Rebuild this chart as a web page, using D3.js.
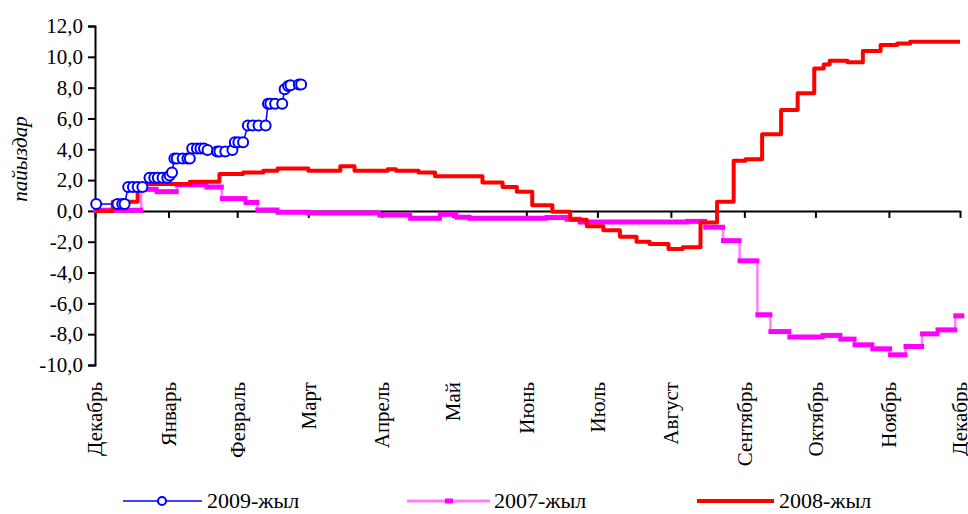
<!DOCTYPE html>
<html lang="ru">
<head>
    <meta charset="UTF-8">
    <script type="text/javascript" src="https://d3js.org/d3.v7.min.js"></script>
    <style type="text/css">
        * {
            margin: 0;
            padding: 0;
        }
        body {
            background-color: white;
        }
        svg {
            display: block;
            font-family: "Liberation Serif", "DejaVu Serif", serif;
        }
        svg text {
            font-family: "Liberation Serif", "DejaVu Serif", serif;
            fill: #000;
        }
        .axis text {
            font-size: 21px;
        }
    </style>
    <title>пайыздар</title>
</head>
<body>
    <div id="chartContainer"></div>

    <script>
        // подписи месяцев и их положение (день от начала декабря)
        var monthLabels = ["Декабрь", "Январь", "Февраль", "Март", "Апрель", "Май", "Июнь",
                           "Июль", "Август", "Сентябрь", "Октябрь", "Ноябрь", "Декабрь"];
        var monthDays = [0, 31, 60, 90, 121, 151, 182, 212, 243, 274, 304, 335, 365];
        var yTicks = [-10, -8, -6, -4, -2, 0, 2, 4, 6, 8, 10, 12];

        // 2009-жыл: точки с маркерами
        var days2009 = [0.5, 9.5, 11.5, 12.5, 14, 16, 18, 20, 23, 25, 26.5, 28.5, 30.5, 31.5, 32.5,
                        33.5, 34.5, 37, 39, 40, 41, 43, 44.5, 46, 47.5, 51.5, 52.5, 55, 58,
                        59, 60.5, 62.5, 64.5, 66.5, 69, 72, 73, 74, 76, 79, 80, 81.5, 82.5, 86, 87];
        var vals2009 = [0.45, 0.45, 0.45, 0.45, 1.55, 1.55, 1.55, 1.55, 2.15, 2.15, 2.15, 2.15, 2.15, 2.3, 2.5,
                        3.4, 3.4, 3.4, 3.4, 3.4, 4.05, 4.05, 4.05, 4.05, 3.95, 3.85, 3.85, 3.85, 3.95,
                        4.45, 4.45, 4.45, 5.55, 5.55, 5.55, 5.55, 6.95, 6.95, 6.95, 6.95, 7.9, 8.1, 8.15, 8.2, 8.2];

        // 2007-жыл: ступени (день начала ступени, значение)
        var days2007 = [0, 19.5, 26, 34.5, 47, 53.5, 63.5, 68.5, 77, 90, 120, 133, 145.5, 152.5, 158,
                        190.5, 199, 204.5, 250, 257.5, 265, 272, 279.5, 285, 293, 307, 314.5, 320.5,
                        328, 335.5, 342, 349, 355.5, 363, 366];
        var vals2007 = [0.05, 1.4, 1.25, 1.7, 1.55, 0.8, 0.55, 0.06, -0.08, -0.13, -0.26, -0.47, -0.22, -0.41, -0.47,
                        -0.43, -0.54, -0.72, -0.68, -1.06, -1.93, -3.24, -6.74, -7.83, -8.19, -8.08, -8.32, -8.69,
                        -8.95, -9.34, -8.8, -7.98, -7.72, -6.81, -6.81];

        // 2008-жыл: ступени
        var days2008 = [0, 7.5, 18, 40, 52.5, 62.5, 71, 77, 90, 103.5, 109.5, 123.5, 127, 136.5, 143.5,
                        163.5, 172, 178, 184.5, 193, 200.5, 207.5, 214.5, 221.5, 228.5, 234, 242, 248,
                        255.5, 262.5, 269.5, 274.5, 281.5, 289.5, 296.5, 303.5, 307.5, 310, 317.5, 324,
                        331.5, 338.5, 344, 365];
        var vals2008 = [0, 0.6, 1.75, 1.9, 2.4, 2.5, 2.6, 2.75, 2.6, 2.9, 2.6, 2.7, 2.6, 2.5, 2.25,
                        1.85, 1.55, 1.25, 0.37, -0.05, -0.58, -1.0, -1.25, -1.67, -2.0, -2.15, -2.48, -2.36,
                        -0.75, 0.6, 3.25, 3.35, 4.97, 6.55, 7.63, 9.25, 9.5, 9.75, 9.64, 10.38,
                        10.77, 10.87, 10.98, 10.98];

        var w = 968;
        var h = 514;
        var fontFamily = "'Liberation Serif', 'DejaVu Serif', serif";

        var toPoints = function(days, vals) {
            return days.map(function(d, i) { return {day: d, v: vals[i]}; });
        };
        var data2009 = toPoints(days2009, vals2009);
        var data2007 = toPoints(days2007, vals2007);
        var data2008 = toPoints(days2008, vals2008);

        var xScale = d3.scaleLinear()
                    .domain([0, 365])
                    .range([95, 960]);

        var yScale = d3.scaleLinear()
                    .domain([-10, 12])
                    .range([365, 26]);

        var svg = d3.select("#chartContainer")
                    .append("svg")
                    .attr("width", w)
                    .attr("height", h)
                    .attr("font-family", fontFamily);

        // оси
        var yAxis = d3.axisLeft(yScale)
                    .tickValues(yTicks)
                    .tickSize(7)
                    .tickPadding(5)
                    .tickFormat(function(d) { return d3.format(".1f")(d).replace(".", ",").replace("−", "-"); });

        var gy = svg.append("g")
                    .attr("class", "axis y")
                    .attr("transform", "translate(95,0)")
                    .call(yAxis)
                    .attr("font-family", fontFamily)
                    .attr("font-size", 21);
        gy.select(".domain").attr("stroke", "#000").attr("stroke-width", 2);
        gy.selectAll(".tick line").attr("stroke", "#000").attr("stroke-width", 2);

        var xAxis = d3.axisBottom(xScale)
                    .tickValues(monthDays)
                    .tickSize(7)
                    .tickSizeOuter(0)
                    .tickFormat("");

        var gx = svg.append("g")
                    .attr("class", "axis x")
                    .attr("transform", "translate(0," + yScale(0) + ")")
                    .call(xAxis);
        gx.select(".domain").attr("stroke", "#000").attr("stroke-width", 2);
        gx.selectAll(".tick line").attr("stroke", "#000").attr("stroke-width", 2);

        // подписи месяцев внизу
        svg.append("g")
            .attr("class", "axis")
            .selectAll("text")
            .data(monthDays)
            .enter()
            .append("text")
            .attr("transform", function(d) { return "translate(" + xScale(d) + ",382) rotate(-90)"; })
            .attr("text-anchor", "end")
            .attr("dy", "0.35em")
            .text(function(d, i) { return monthLabels[i]; });

        // подпись оси Y
        svg.append("text")
            .attr("transform", "translate(20,159) rotate(-90)")
            .attr("text-anchor", "middle")
            .attr("dy", "0.35em")
            .attr("font-size", "21px")
            .attr("font-style", "italic")
            .text("пайыздар");

        var stepLine = d3.line()
                    .x(function(d) { return xScale(d.day); })
                    .y(function(d) { return yScale(d.v); })
                    .curve(d3.curveStepAfter);

        // 2007-жыл
        svg.append("path")
            .datum(data2007)
            .attr("d", stepLine)
            .attr("fill", "none")
            .attr("stroke", "#ff80ff")
            .attr("stroke-width", 2.5);

        svg.append("g")
            .selectAll("line")
            .data(data2007.slice(0, data2007.length - 1))
            .enter()
            .append("line")
            .attr("x1", function(d) { return xScale(d.day) - 2; })
            .attr("x2", function(d, i) { return xScale(data2007[i + 1].day) + 2; })
            .attr("y1", function(d) { return yScale(d.v); })
            .attr("y2", function(d) { return yScale(d.v); })
            .attr("stroke", "#ff00ff")
            .attr("stroke-width", 5);

        // 2008-жыл
        svg.append("path")
            .datum(data2008)
            .attr("d", stepLine)
            .attr("fill", "none")
            .attr("stroke", "#ff0000")
            .attr("stroke-width", 4)
            .attr("stroke-linejoin", "round");

        // 2009-жыл
        var line2009 = d3.line()
                    .x(function(d) { return xScale(d.day); })
                    .y(function(d) { return yScale(d.v); });

        svg.append("path")
            .datum(data2009)
            .attr("d", line2009)
            .attr("fill", "none")
            .attr("stroke", "#0000ff")
            .attr("stroke-width", 1.5);

        svg.append("g")
            .selectAll("circle")
            .data(data2009)
            .enter()
            .append("circle")
            .attr("cx", function(d) { return xScale(d.day); })
            .attr("cy", function(d) { return yScale(d.v); })
            .attr("r", 5)
            .attr("fill", "white")
            .attr("stroke", "#0000ff")
            .attr("stroke-width", 2);

        // легенда
        var legendY = 501;
        var legend = svg.append("g")
                    .attr("font-size", "22px");

        legend.append("line")
            .attr("x1", 123).attr("x2", 202)
            .attr("y1", legendY).attr("y2", legendY)
            .attr("stroke", "#0000ff").attr("stroke-width", 1.5);
        legend.append("circle")
            .attr("cx", 162).attr("cy", legendY).attr("r", 4)
            .attr("fill", "white").attr("stroke", "#0000ff").attr("stroke-width", 2);
        legend.append("text")
            .attr("x", 207).attr("y", legendY + 7)
            .text("2009-жыл");

        legend.append("line")
            .attr("x1", 407).attr("x2", 490)
            .attr("y1", legendY).attr("y2", legendY)
            .attr("stroke", "#ff80ff").attr("stroke-width", 3);
        legend.append("rect")
            .attr("x", 445).attr("y", legendY - 2.5).attr("width", 8).attr("height", 5)
            .attr("fill", "#ff00ff");
        legend.append("text")
            .attr("x", 494).attr("y", legendY + 7)
            .text("2007-жыл");

        legend.append("line")
            .attr("x1", 697).attr("x2", 774)
            .attr("y1", legendY).attr("y2", legendY)
            .attr("stroke", "#ff0000").attr("stroke-width", 4);
        legend.append("text")
            .attr("x", 779).attr("y", legendY + 7)
            .text("2008-жыл");
    </script>
</body>
</html>
